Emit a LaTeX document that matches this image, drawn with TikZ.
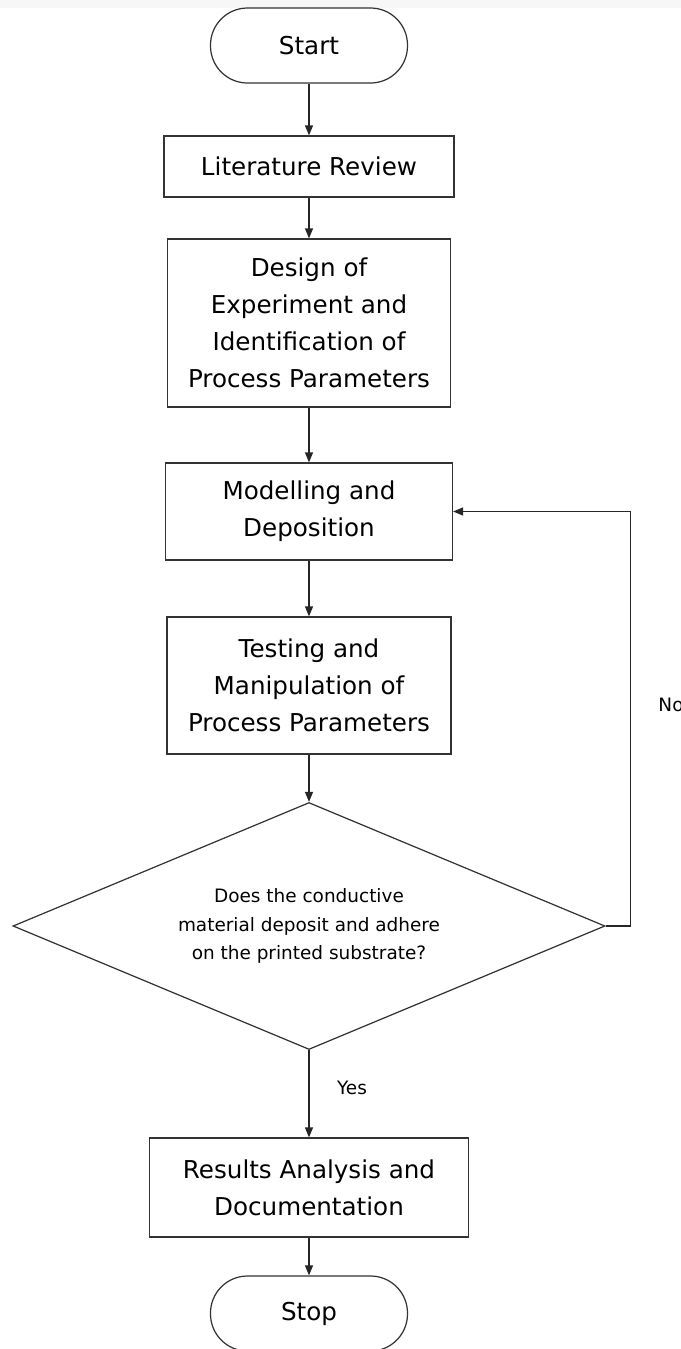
\documentclass[tikz,border=0pt]{standalone}
\usepackage{fontspec}
\setmainfont{DejaVu Sans}
\usepackage{tikz}
\usetikzlibrary{shapes.geometric,arrows.meta}

\begin{document}
\begin{tikzpicture}[
    >={Triangle[length=2mm,width=1.6mm]},
    line width=0.7pt,
    box/.style={
        draw=black!80,
        rectangle,
        minimum width=5.7cm,
        inner sep=1mm,
        align=center,
        font=\fontsize{14}{21}\selectfont
    },
    term/.style={
        draw=black!80,
        rectangle,
        rounded corners=0.74cm,
        minimum width=3.94cm,
        minimum height=1.5cm,
        font=\fontsize{14}{21}\selectfont
    },
    decision/.style={
        draw=black!80,
        diamond,
        aspect=2.4,
        inner sep=0pt,
        minimum width=11.84cm,
        minimum height=4.94cm,
        align=center,
        font=\fontsize{10.5}{16}\selectfont
    },
    lbl/.style={font=\fontsize{10.5}{16}\selectfont},
    arrow/.style={->, draw=black!85}
]
\useasboundingbox (0,0) rectangle (13.62,-26.98);
\fill[black!3] (0,0) rectangle (13.62,-0.16);

\node[term] (start) at (6.18,-0.91) {Start};
\node[box, minimum width=5.8cm, minimum height=1.22cm] (lit) at (6.18,-3.33) {Literature Review};
\node[box, minimum width=5.66cm, minimum height=3.36cm] (design) at (6.18,-6.46) {Design of\\Experiment and\\Identification of\\Process Parameters};
\node[box, minimum width=5.74cm, minimum height=1.94cm] (model) at (6.18,-10.23) {Modelling and\\Deposition};
\node[box, minimum width=5.68cm, minimum height=2.74cm] (test) at (6.18,-13.71) {Testing and\\Manipulation of\\Process Parameters};
\node[decision] (check) at (6.18,-18.52) {Does the conductive\\material deposit and adhere\\on the printed substrate?};
\node[box, minimum width=6.38cm, minimum height=1.98cm] (results) at (6.18,-23.75) {Results Analysis and\\Documentation};
\node[term] (stop) at (6.18,-26.27) {Stop};

\node[lbl, anchor=west] (no) at (13.04,-14.1) {No};
\node[lbl] (yes) at (7.04,-21.76) {Yes};

\draw[arrow] (start) -- (lit);
\draw[arrow] (lit) -- (design);
\draw[arrow] (design) -- (model);
\draw[arrow] (model) -- (test);
\draw[arrow] (test) -- (check);
\draw[arrow] (check) -- (results);
\draw[arrow] (results) -- (stop);
\draw[arrow] (check.east) -- ++(0.5,0) |- (model.east);

\end{tikzpicture}
\end{document}
